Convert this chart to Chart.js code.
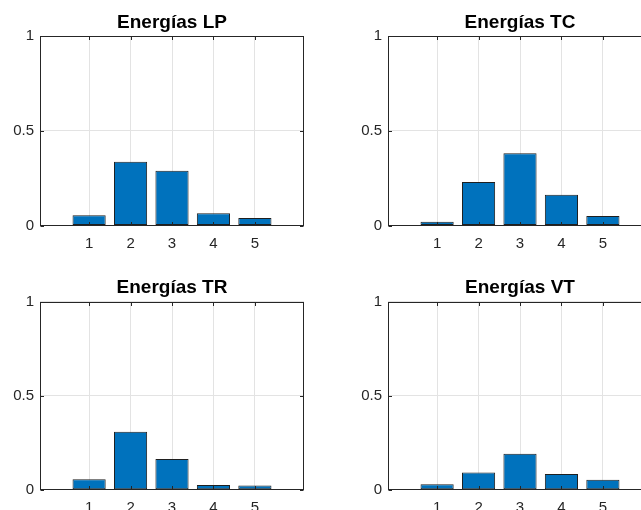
<!DOCTYPE html>
<html>
<head>
<meta charset="utf-8">
<script src="https://cdn.jsdelivr.net/npm/chart.js@4/dist/chart.umd.min.js"></script>
<style>
html,body{margin:0;padding:0;background:#fff;overflow:hidden;width:641px;height:510px;position:relative;}
canvas{position:absolute;}
</style>
</head>
<body>
<canvas id="cLP" width="320" height="255" style="left:0;top:0;width:320px;height:255px"></canvas>
<canvas id="cTC" width="360" height="255" style="left:320px;top:0;width:360px;height:255px"></canvas>
<canvas id="cTR" width="320" height="255" style="left:0;top:255px;width:320px;height:255px"></canvas>
<canvas id="cVT" width="360" height="255" style="left:320px;top:255px;width:360px;height:255px"></canvas>
<script>
// ---- data ----
const categories = [1, 2, 3, 4, 5];
const energiasLP = [0.054, 0.337, 0.289, 0.065, 0.040];
const energiasTC = [0.020, 0.229, 0.381, 0.162, 0.050];
const energiasTR = [0.055, 0.308, 0.163, 0.025, 0.023];
const energiasVT = [0.029, 0.092, 0.191, 0.083, 0.053];
const yTickValues = [0, 0.5, 1];
const yTickLabels = ['0', '0.5', '1'];
const titles = ['Energías LP', 'Energías TC', 'Energías TR', 'Energías VT'];

const FONT = "'Liberation Sans', Arial, Helvetica, sans-serif";
const AXIS = '#262626';
const GRID = '#e3e3e3';

const boxPlugin = {
  id: 'matlabBox',
  afterDatasetsDraw(chart) {
    const ctx = chart.ctx, a = chart.chartArea, xs = chart.scales.x, ys = chart.scales.y;
    ctx.save();
    ctx.strokeStyle = AXIS;
    ctx.lineWidth = 1;
    ctx.beginPath();
    const L = Math.round(a.left) + 0.5, R = Math.round(a.right) - 0.5;
    const T = Math.round(a.top) + 0.5, B = Math.round(a.bottom) - 0.5;
    xs.ticks.forEach(t => {
      const px = Math.round(xs.getPixelForValue(t.value)) + 0.5;
      ctx.moveTo(px, B); ctx.lineTo(px, B - 3.5);
      ctx.moveTo(px, T); ctx.lineTo(px, T + 3.5);
    });
    ys.ticks.forEach(t => {
      const py = Math.round(ys.getPixelForValue(t.value)) + 0.5;
      ctx.moveTo(L, py); ctx.lineTo(L + 3.5, py);
      ctx.moveTo(R, py); ctx.lineTo(R - 3.5, py);
    });
    ctx.stroke();
    ctx.strokeRect(L, T, R - L, B - T);
    ctx.restore();
  }
};

function makeChart(id, values, title, yWidth, xHeight, padRight, titleTop) {
  new Chart(document.getElementById(id), {
    type: 'bar',
    data: {
      labels: categories,
      datasets: [{
        data: values,
        backgroundColor: '#0072BD',
        borderColor: '#1f1f1f',
        borderWidth: 1,
        borderSkipped: false,
        categoryPercentage: 1.0,
        barPercentage: 0.8
      }]
    },
    options: {
      responsive: false,
      animation: false,
      devicePixelRatio: 1,
      layout: { padding: { left: 0, right: padRight, top: 0, bottom: 0 } },
      plugins: {
        legend: { display: false },
        tooltip: { enabled: false },
        title: {
          display: true,
          text: title,
          fullSize: false,
          color: '#000',
          font: { family: FONT, size: 19, weight: 'bold', lineHeight: 1.2 },
          padding: { top: titleTop - 0.6, bottom: 2.1 }
        }
      },
      scales: {
        x: {
          type: 'linear',
          min: -0.185,
          max: 6.185,
          offset: false,
          afterBuildTicks(scale) { scale.ticks = categories.map(v => ({ value: v })); },
          afterFit(scale) { scale.height = xHeight; },
          grid: { display: true, offset: false, color: GRID, drawTicks: false, lineWidth: 1 },
          border: { display: false },
          ticks: {
            color: AXIS, padding: 9, maxRotation: 0, autoSkip: false,
            font: { family: FONT, size: 15 },
            callback: v => String(v)
          }
        },
        y: {
          type: 'linear',
          min: 0,
          max: 1,
          afterBuildTicks(scale) { scale.ticks = yTickValues.map(v => ({ value: v })); },
          afterFit(scale) { scale.width = yWidth; },
          grid: { display: true, offset: false, color: GRID, drawTicks: false, lineWidth: 1 },
          border: { display: false },
          ticks: {
            color: AXIS, padding: 6,
            font: { family: FONT, size: 15 },
            callback: v => yTickLabels[yTickValues.indexOf(v)]
          }
        }
      }
    },
    plugins: [boxPlugin]
  });
}

makeChart('cLP', energiasLP, titles[0], 40, 29.5, 16, 11.7);
makeChart('cTC', energiasTC, titles[1], 68, 29.5, 28, 11.7);
makeChart('cTR', energiasTR, titles[2], 40, 20.3, 16, 22.4);
makeChart('cVT', energiasVT, titles[3], 68, 20.3, 28, 22.4);
</script>
</body>
</html>
